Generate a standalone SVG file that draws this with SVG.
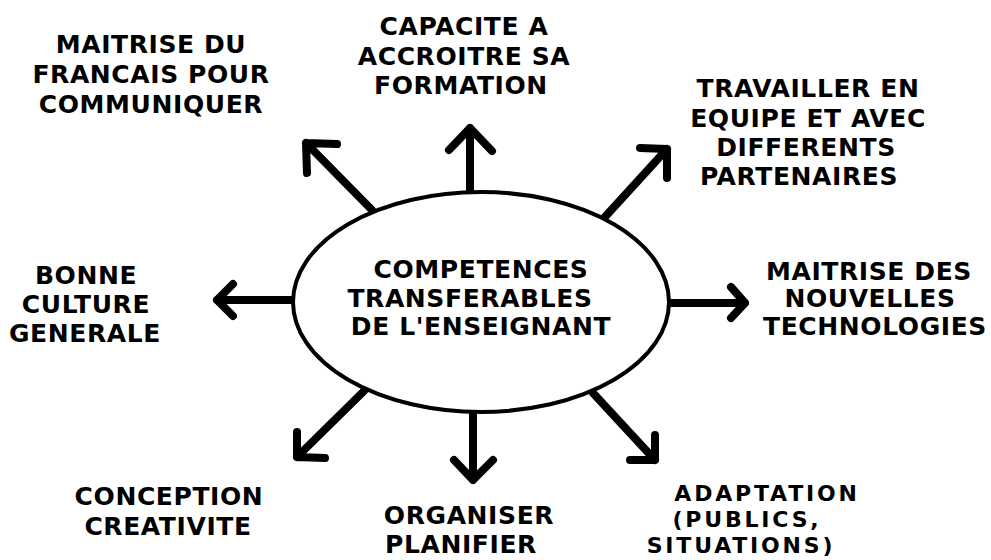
<svg xmlns="http://www.w3.org/2000/svg" width="991" height="560" viewBox="0 0 991 560">
<style>
text{font-family:"DejaVu Sans","Liberation Sans",sans-serif;font-weight:bold;font-size:25px;letter-spacing:0.6px;fill:#000;text-anchor:middle}
text.tight{font-size:22px;letter-spacing:2.8px}
.arrow{fill:none;stroke:#000;stroke-width:8;stroke-linecap:round;stroke-linejoin:round}
</style>
<rect width="991" height="560" fill="#fff"/>
<g id="connectors">
<path class="arrow" d="M372,210 L306,143 M337,144 L306,143 L307,173"/>
<path class="arrow" d="M470,192 L470,128 M449,150 L470,128 L492,151"/>
<path class="arrow" d="M604,218 L667,149 M640,148 L667,149 L667,178"/>
<path class="arrow" d="M669,303 L745,303 M731,287 L745,303 L731,318"/>
<path class="arrow" d="M293,300 L217,300 M233,284 L217,300 L233,316"/>
<path class="arrow" d="M364,391 L297,457 M297,432 L297,457 L325,458"/>
<path class="arrow" d="M473,412 L473,480 M454,460 L473,480 L493,460"/>
<path class="arrow" d="M593,393 L655,460 M655,435 L655,460 L630,460"/>
</g>
<g id="center">
<ellipse cx="481" cy="302" rx="188" ry="110" fill="#fff" stroke="#000" stroke-width="4"/>
<text x="481" y="278">COMPETENCES</text>
<text x="470" y="307">TRANSFERABLES</text>
<text x="481" y="335">DE L'ENSEIGNANT</text>
</g>
<g id="francais">
<text x="151" y="53">MAITRISE DU</text>
<text x="151" y="83">FRANCAIS POUR</text>
<text x="151" y="113">COMMUNIQUER</text>
</g>
<g id="formation">
<text x="464" y="35">CAPACITE A</text>
<text x="464" y="65">ACCROITRE SA</text>
<text x="461" y="94">FORMATION</text>
</g>
<g id="equipe">
<text x="808" y="97">TRAVAILLER EN</text>
<text x="808" y="127">EQUIPE ET AVEC</text>
<text x="806" y="156">DIFFERENTS</text>
<text x="799" y="185">PARTENAIRES</text>
</g>
<g id="technologies">
<text x="869" y="280">MAITRISE DES</text>
<text x="870" y="307">NOUVELLES</text>
<text x="875" y="335">TECHNOLOGIES</text>
</g>
<g id="culture">
<text x="86" y="284">BONNE</text>
<text x="86" y="313">CULTURE</text>
<text x="85" y="342">GENERALE</text>
</g>
<g id="conception">
<text x="169" y="505">CONCEPTION</text>
<text x="168" y="535">CREATIVITE</text>
</g>
<g id="organiser">
<text x="469" y="524">ORGANISER</text>
<text x="461" y="553">PLANIFIER</text>
</g>
<g id="adaptation">
<text class="tight" x="767" y="501">ADAPTATION</text>
<text class="tight" x="747" y="527">(PUBLICS,</text>
<text class="tight" x="741" y="553">SITUATIONS)</text>
</g>
</svg>
